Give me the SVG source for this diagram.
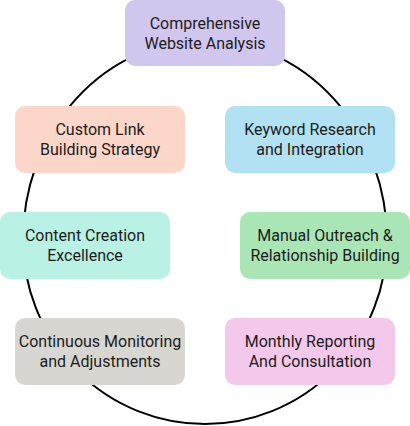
<svg xmlns="http://www.w3.org/2000/svg" width="410" height="426" viewBox="0 0 410 426">
<style>
.n rect{rx:10px;ry:10px}
.n text{font-family:Roboto,"Liberation Sans",sans-serif;font-size:16px;fill:#1c1c1c;text-anchor:middle}
.c{fill:none;stroke:#000;stroke-width:2}
</style>
<rect width="410" height="426" fill="#fff"/>
<g id="connectors">
<path class="c" d="M23,240 A182,200 0 0 1 387,240 A182,184 0 0 1 23,240 Z"/>
</g>
<g id="n1" class="n"><rect x="125" y="0" width="160" height="66" fill="#d1c6ed"/><text x="205" y="29">Comprehensive</text><text x="205" y="49">Website Analysis</text></g>
<g id="n2" class="n"><rect x="15" y="106" width="170" height="67" fill="#fdd6ca"/><text x="100" y="135">Custom Link</text><text x="100" y="155">Building Strategy</text></g>
<g id="n3" class="n"><rect x="225" y="106" width="170" height="67" fill="#b1e1f3"/><text x="310" y="135">Keyword Research</text><text x="310" y="155">and Integration</text></g>
<g id="n4" class="n"><rect x="0" y="212" width="170" height="67" fill="#b9f1e5"/><text x="85" y="241">Content Creation</text><text x="85" y="261">Excellence</text></g>
<g id="n5" class="n"><rect x="240" y="212" width="170" height="67" fill="#a9e5b5"/><text x="325" y="241">Manual Outreach &amp;</text><text x="325" y="261">Relationship Building</text></g>
<g id="n6" class="n"><rect x="15" y="318" width="170" height="67" fill="#d7d6d1"/><text x="100" y="347">Continuous Monitoring</text><text x="100" y="367">and Adjustments</text></g>
<g id="n7" class="n"><rect x="225" y="318" width="170" height="67" fill="#f4c8eb"/><text x="310" y="347">Monthly Reporting</text><text x="310" y="367">And Consultation</text></g>
</svg>
